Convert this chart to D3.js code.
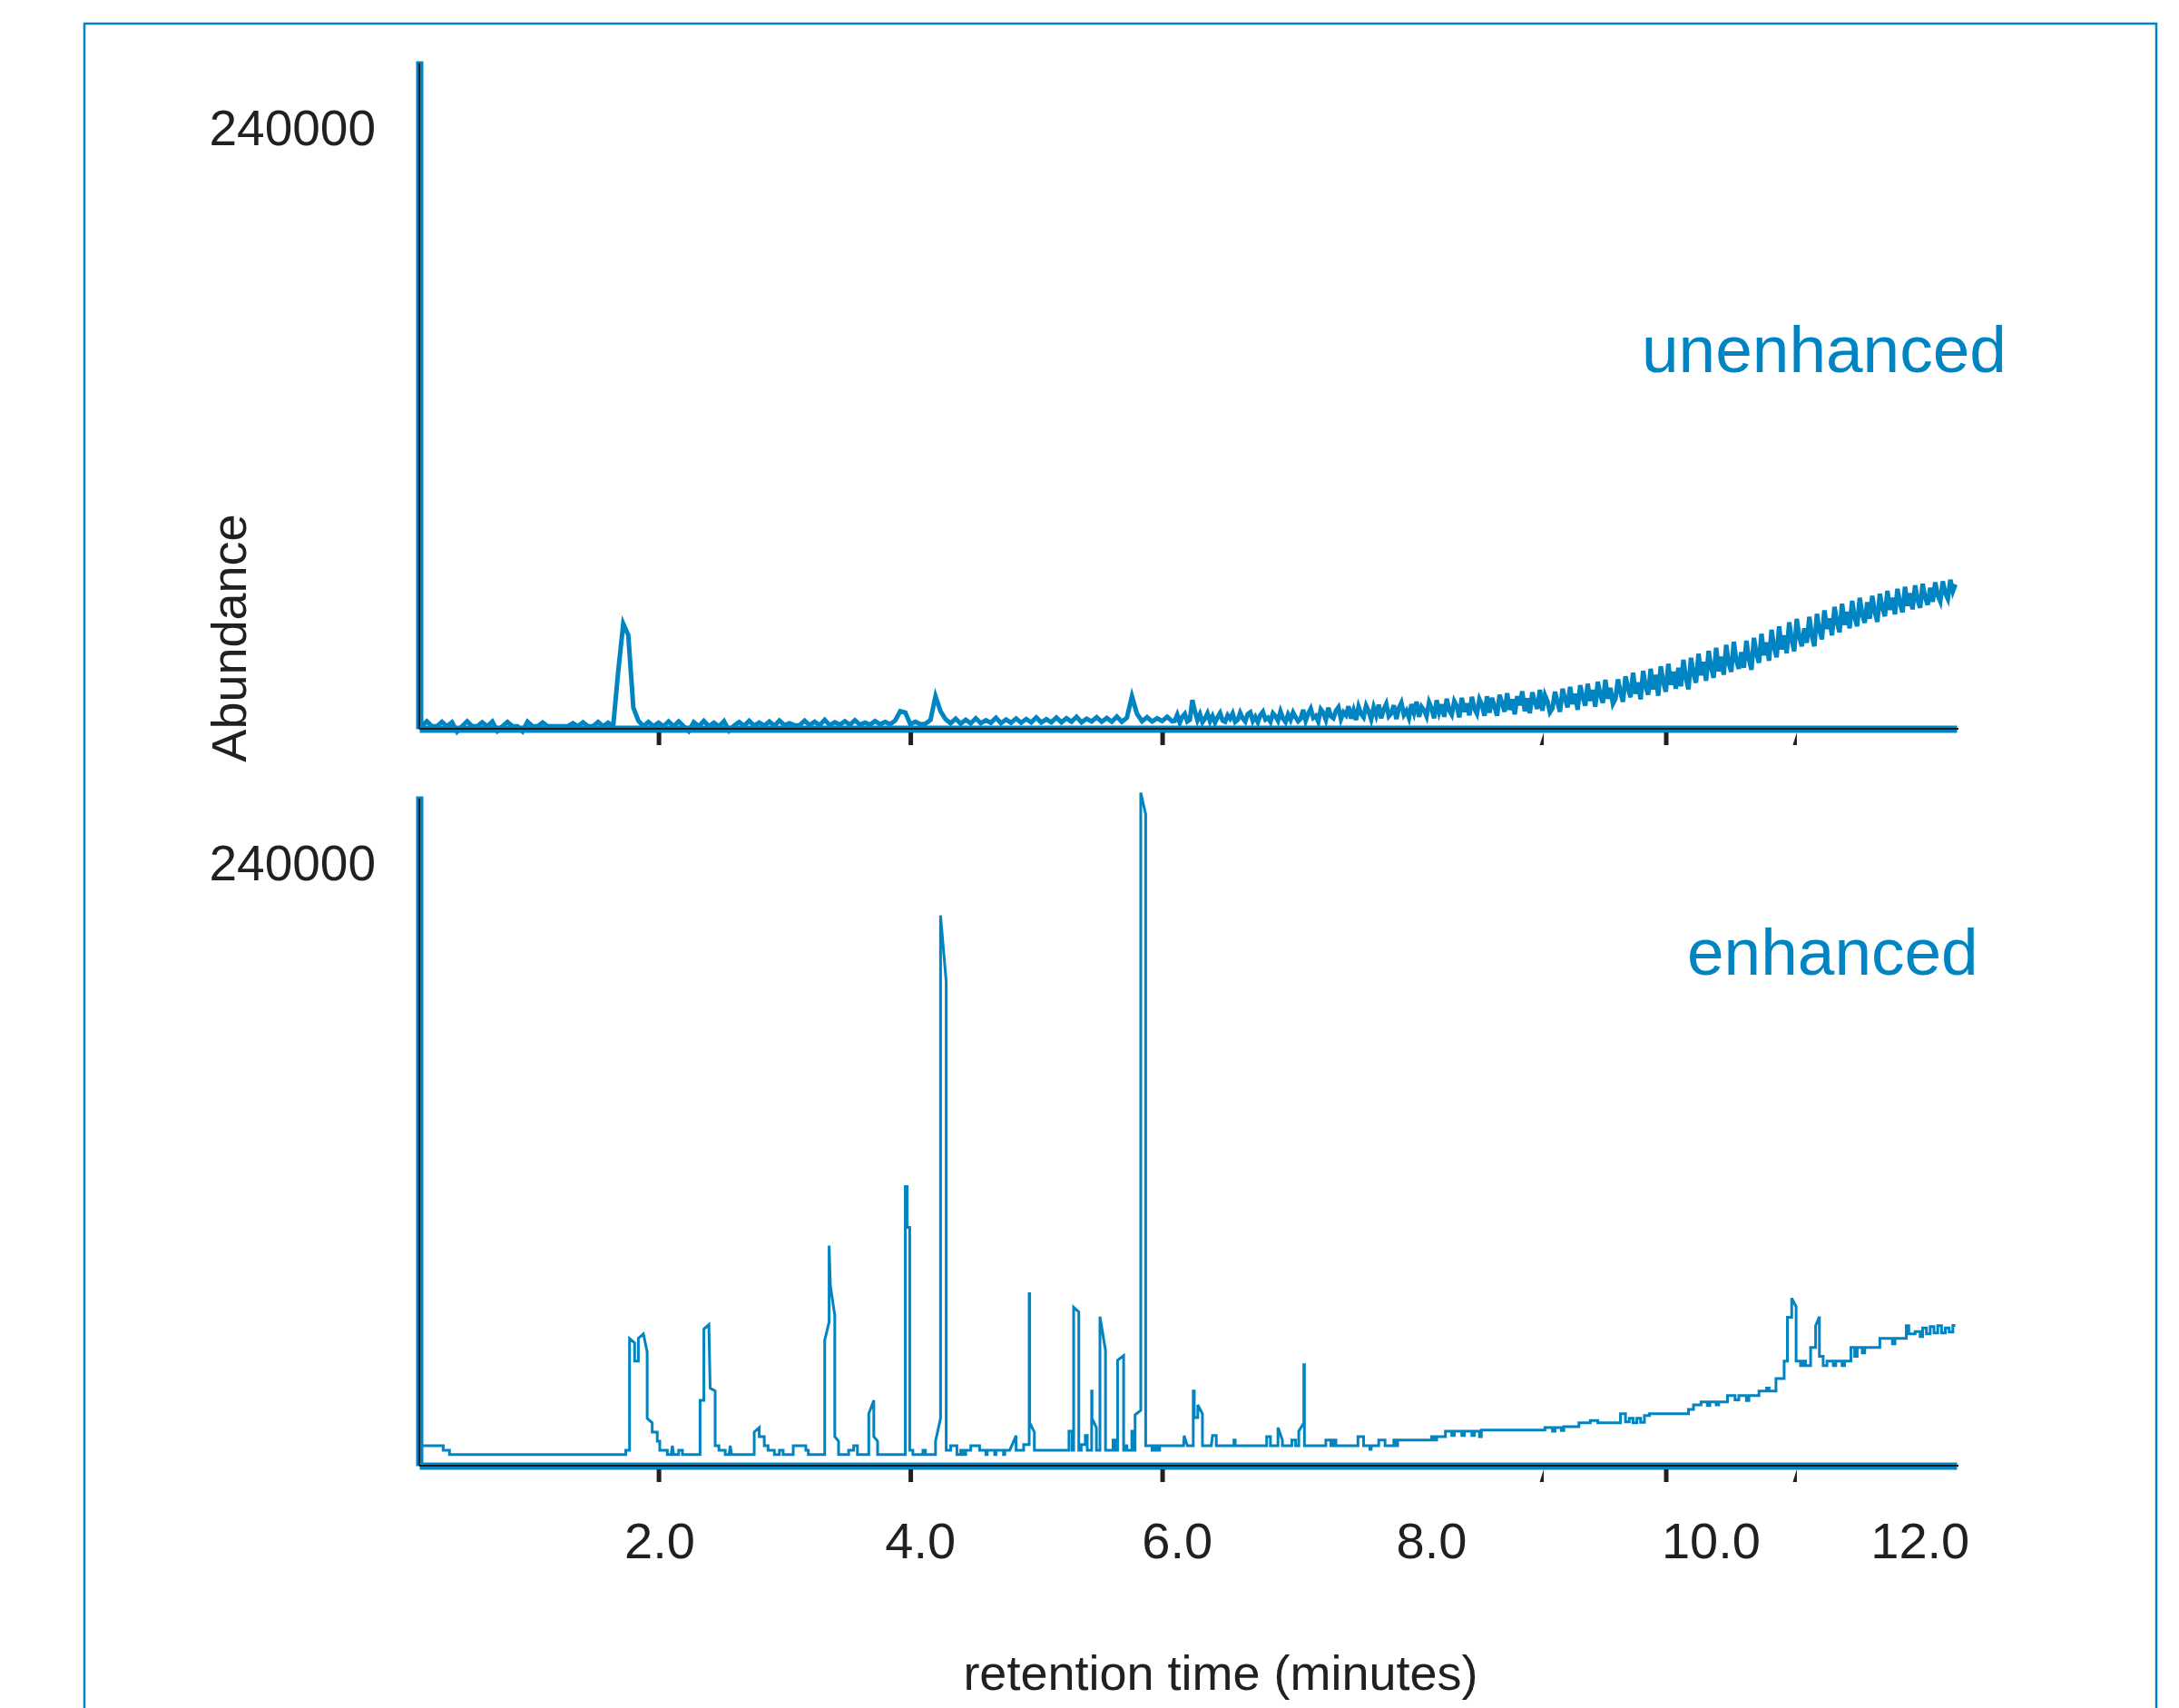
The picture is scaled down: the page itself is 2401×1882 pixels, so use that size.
<!DOCTYPE html>
<html>
<head>
<meta charset="utf-8">
<script src="https://cdn.jsdelivr.net/npm/d3@7"></script>
<style>
  body { margin: 0; background: #fff; }
  text { font-family: 'Liberation Sans', Arial, Helvetica, sans-serif; }
</style>
</head>
<body>
<svg id="chart"></svg>
<script>
// ---- data (abundance in thousands, time in minutes) ----
var panelNames = ['unenhanced', 'enhanced'];
var yTickValues = [240];
var xTickLabels = ['2.0', '4.0', '6.0', '8.0', '10.0', '12.0'];
var xLabelTimes = [2.01, 4.08, 6.12, 8.14, 10.36, 12.02];
var xTickTimes = [2, 4, 6, 10];
var xSlantTickTimes = [9.02, 11.03];

// unenhanced trace, first part sampled every 0.04 min from 0.12 min
var unenhancedEarlyStart = 0.12;
var unenhancedEarlyStep = 0.04;
var unenhancedEarly = [
  1.0, 3.0, 1.0, 1.0, 2.8, 1.0, 2.6, -1.2, 1.0, 3.0, 1.0, 1.0, 2.6, 1.0, 2.9, -0.9, 1.0, 2.7, 1.0, 1.0, -1.0, 2.8, 1.0, 1.0, 2.5,
  1.0, 1.0, 1.0, 1.0, 1.0, 2.2, 1.0, 2.6, 1.0, 1.0, 2.7, 1.0, 2.4, 1.0, 23.0, 42.0, 37.5, 8.5, 3.2, 1.0, 2.7, 1.0, 2.4, 1.0, 2.9,
  1.0, 2.9, 1.0, -1.0, 2.6, 1.0, 3.1, 1.0, 2.4, 1.0, 3.0, -0.8, 1.2, 2.7, 1.2, 3.2, 1.2, 2.5, 1.2, 2.9, 1.2, 3.3, 1.4, 2.2, 1.4,
  1.4, 3.2, 1.4, 2.8, 1.4, 3.6, 1.4, 2.6, 1.6, 3.0, 1.6, 3.4, 1.6, 2.5, 1.6, 3.1, 1.8, 2.7, 1.8, 3.3, 7.0, 6.5, 1.8, 2.8, 1.8,
  2.0, 3.5, 13.0, 7.0, 3.8, 2.2, 4.0, 2.0, 3.6, 2.2, 4.2, 2.2, 3.4, 2.4, 4.4, 2.2, 3.7, 2.4, 4.1, 2.4, 3.9, 2.5, 4.5, 2.5, 3.8,
  2.6, 4.5, 2.6, 4.2, 2.8, 4.8, 2.6, 4.0, 2.9, 4.6, 2.8, 4.3, 2.8, 4.9, 2.8, 4.4, 13.0, 6.0, 3.0, 4.6, 2.9, 4.2, 3.1, 4.8, 3.0
];
// second part, sampled every 0.02 min from 6.10 min
var unenhancedLateStart = 6.10;
var unenhancedLateStep = 0.02;
var unenhancedLate = [
  3.2, 5.6, 2.4, 4.8, 6.0, 2.9, 3.6, 11.5, 7.0, 3.4, 5.8, 2.6, 4.1, 6.2, 3.0, 5.1, 2.5, 4.6, 6.3, 3.3, 2.8, 5.4, 4.0, 6.1, 2.7,
  3.5, 6.4, 4.2, 2.9, 5.9, 6.6, 3.1, 4.8, 2.6, 5.5, 6.8, 3.7, 4.4, 2.8, 6.2, 5.0, 3.2, 6.9, 4.1, 2.7, 5.7, 3.6, 6.5, 4.6, 3.0,
  4.0, 7.6, 3.2, 6.0, 8.0, 4.4, 5.2, 2.9, 7.8, 6.4, 3.6, 8.4, 5.0, 4.2, 7.2, 8.6, 3.9, 6.6, 5.4, 9.0, 4.1, 7.4, 3.5, 8.8, 6.0,
  4.6, 9.2, 7.0, 3.8, 8.6, 5.4, 9.6, 4.2, 7.8, 10.0, 5.0, 6.2, 9.4, 3.9, 8.2, 10.4, 5.6, 7.2, 4.4, 9.8, 6.4, 10.8, 4.8, 8.8, 7.4,
  5.0, 10.6, 8.2, 4.2, 11.4, 6.6, 9.8, 4.8, 12.0, 7.4, 5.6, 11.0, 9.0, 4.6, 12.4, 6.8, 10.2, 5.4, 12.8, 8.0, 6.0, 11.8, 9.6, 5.2, 13.0,
  6.4, 12.4, 8.8, 5.2, 13.6, 10.0, 6.8, 14.2, 7.6, 11.8, 5.8, 13.0, 9.4, 15.0, 7.0, 12.2, 6.2, 14.6, 10.6, 8.0, 15.6, 7.2, 13.4, 11.0, 6.6,
  8.2, 14.8, 10.6, 6.8, 16.0, 12.0, 8.6, 16.8, 9.8, 14.0, 7.6, 17.4, 12.8, 9.2, 18.0, 11.2, 15.6, 8.8, 18.8, 13.4, 10.4, 19.6, 12.0, 16.4, 10.0,
  12.0, 19.8, 14.6, 10.8, 21.0, 16.4, 12.6, 22.4, 14.0, 18.6, 11.8, 23.2, 17.0, 13.6, 24.0, 15.8, 21.6, 13.2, 25.0, 18.8, 14.8, 26.0, 17.6, 22.8, 16.0,
  24.4, 17.0, 27.6, 20.2, 15.8, 28.4, 22.0, 18.4, 30.0, 21.4, 26.8, 19.2, 31.2, 24.6, 20.4, 32.4, 23.0, 28.8, 21.6, 33.6, 26.2, 22.8, 34.8, 27.4, 24.0,
  30.6, 24.4, 35.2, 28.0, 23.6, 36.4, 30.0, 26.4, 38.0, 29.4, 34.6, 27.2, 39.6, 32.6, 28.6, 41.0, 31.8, 37.4, 30.2, 42.6, 35.6, 31.0, 44.0, 36.8, 33.0,
  40.2, 34.4, 44.8, 37.2, 33.0, 46.0, 39.6, 35.8, 47.4, 40.0, 44.2, 37.4, 48.8, 42.6, 38.6, 50.0, 41.6, 46.8, 40.2, 51.2, 44.6, 41.0, 52.4, 45.8, 42.4,
  50.6, 44.0, 53.2, 46.8, 42.8, 54.0, 48.4, 45.0, 55.2, 47.6, 52.4, 45.8, 56.0, 50.2, 46.6, 56.8, 49.2, 54.2, 47.8, 57.4, 51.6, 48.4, 58.0, 52.6, 49.6,
  56.4, 50.8, 58.6, 53.4, 51.0, 59.0, 54.2, 52.0, 59.6, 55.0, 57.8
];

// enhanced trace as [time, abundance] points
var enhancedPoints = [
  [0.11,8.0],[0.29,8.0],[0.29,6.2],[0.34,6.2],[0.34,4.4],[1.74,4.4],[1.74,6.2],[1.77,6.2],[1.77,50.8],[1.81,49.0],[1.81,41.7],[1.84,41.7],[1.84,50.8],[1.88,52.6],[1.91,45.4],[1.91,18.9],[1.95,17.1],[1.95,13.4],[1.99,13.4],[1.99,9.8],[2.01,9.8],[2.01,6.2],[2.07,6.2],[2.07,4.4],[2.10,4.4],[2.11,8.0],[2.12,4.4],[2.16,4.4],[2.16,6.2],[2.19,6.2],[2.19,4.4],
  [2.33,4.4],[2.33,26.1],[2.36,26.1],[2.36,54.5],[2.40,56.3],[2.41,30.9],[2.45,29.8],[2.45,8.0],[2.48,8.0],[2.48,6.2],[2.53,6.2],[2.53,4.4],[2.56,4.4],[2.57,8.0],[2.58,4.4],
  [2.76,4.4],[2.76,13.4],[2.80,15.2],[2.80,11.6],[2.84,11.6],[2.84,8.0],[2.87,8.0],[2.87,6.2],[2.92,6.2],[2.92,4.4],[2.96,4.4],[2.96,6.2],[2.99,6.2],[2.99,4.4],
  [3.07,4.4],[3.07,8.0],[3.17,8.0],[3.17,6.2],[3.19,6.2],[3.19,4.4],
  [3.32,4.4],[3.32,50.1],[3.355,57.4],[3.355,87.8],[3.365,71.9],[3.40,59.9],[3.40,11.6],[3.43,9.8],[3.43,4.4],
  [3.51,4.4],[3.51,6.2],[3.55,6.2],[3.55,8.0],[3.58,8.0],[3.58,4.4],
  [3.67,4.4],[3.67,20.7],[3.71,26.1],[3.71,11.6],[3.74,9.8],[3.74,4.4],
  [3.96,4.4],[3.96,111.4],[3.975,111.4],[3.975,95.1],[3.995,95.1],[3.995,6.2],[4.02,6.2],[4.02,4.4],
  [4.10,4.4],[4.10,6.2],[4.12,6.2],[4.12,4.4],
  [4.20,4.4],[4.20,9.8],[4.24,18.9],[4.24,219.6],[4.285,193.1],[4.285,6.2],
  [4.32,6.2],[4.32,8.0],[4.37,8.0],[4.37,4.4],[4.40,4.4],[4.40,6.2],[4.42,6.2],[4.42,4.4],[4.44,4.4],[4.44,6.2],[4.48,6.2],[4.48,8.0],[4.55,8.0],[4.55,6.2],[4.60,6.2],[4.60,4.4],[4.61,4.4],[4.61,6.2],[4.67,6.2],[4.67,4.4],[4.68,4.4],[4.68,6.2],[4.74,6.2],[4.74,4.4],[4.75,4.4],[4.75,6.2],[4.79,6.2],[4.84,12.0],[4.84,6.2],[4.90,6.2],[4.90,8.4],[4.944,8.4],[4.944,68.6],[4.948,68.6],[4.948,17.1],[4.985,13.4],[4.985,6.2],
  [5.26,6.2],[5.26,13.8],[5.285,13.8],[5.285,6.2],[5.297,6.2],[5.297,63.2],[5.338,61.3],[5.338,6.2],
  [5.357,6.2],[5.357,8.4],[5.39,8.4],[5.39,12.0],[5.405,12.0],[5.405,6.2],
  [5.44,6.2],[5.44,29.8],[5.443,29.8],[5.443,18.9],[5.478,15.2],[5.478,6.2],
  [5.506,6.2],[5.506,59.5],[5.55,46.1],[5.55,6.2],
  [5.61,6.2],[5.61,10.2],[5.625,10.2],[5.625,6.2],
  [5.646,6.2],[5.646,42.1],[5.694,43.9],[5.694,6.2],[5.70,6.2],[5.70,8.0],[5.72,8.0],[5.72,6.2],
  [5.759,6.2],[5.759,13.8],[5.77,13.8],[5.77,6.2],[5.785,6.2],[5.785,20.3],[5.83,22.1],[5.83,268.6],[5.869,260.0],[5.869,8.0],
  [5.92,8.0],[5.92,6.2],[5.94,6.2],[5.94,8.0],[5.96,8.0],[5.96,6.2],[5.98,6.2],[5.98,8.0],
  [6.17,8.0],[6.175,12.0],[6.20,8.0],
  [6.247,8.0],[6.247,29.8],[6.255,29.8],[6.255,19.2],[6.283,19.2],[6.283,24.3],[6.32,20.7],[6.32,8.0],
  [6.39,8.0],[6.40,12.0],[6.43,12.0],[6.43,8.0],
  [6.57,8.0],[6.57,10.2],[6.58,10.2],[6.58,8.0],
  [6.83,8.0],[6.83,11.6],[6.86,11.6],[6.86,8.0],
  [6.92,8.0],[6.92,15.2],[6.955,10.2],[6.955,8.0],
  [7.03,8.0],[7.03,10.2],[7.06,10.2],[7.06,8.0],
  [7.085,8.0],[7.085,13.8],[7.125,17.1],[7.125,40.3],[7.13,40.3],[7.13,8.0],
  [7.30,8.0],[7.30,10.2],[7.34,10.2],[7.34,8.0],
  [7.36,8.0],[7.36,10.2],[7.38,10.2],[7.38,8.0],
  [7.555,8.0],[7.555,11.6],[7.60,11.6],[7.60,8.0],[7.65,8.0],[7.65,6.5],[7.66,6.5],[7.66,8.0],[7.72,8.0],[7.72,10.2],[7.77,10.2],[7.77,8.0],[7.84,8.0],[7.84,10.2],[7.86,10.2],[7.86,8.0],[7.87,8.0],[7.87,10.2],
  [8.14,10.2],[8.14,11.6],[8.16,11.6],[8.16,10.2],[8.18,10.2],[8.18,11.6],[8.25,11.6],[8.25,13.8],[8.30,13.8],[8.30,12.0],[8.32,12.0],[8.32,13.8],[8.38,13.8],[8.38,12.0],[8.40,12.0],[8.40,13.8],[8.46,13.8],[8.46,12.0],[8.48,12.0],[8.48,13.8],[8.52,13.8],[8.52,11.6],[8.535,11.6],[8.535,14.2],[9.04,14.2],
  [9.04,15.2],[9.10,15.2],[9.10,13.8],[9.12,13.8],[9.12,15.2],[9.17,15.2],[9.17,14.0],[9.19,14.0],[9.19,15.6],[9.31,15.6],
  [9.31,17.1],[9.40,17.1],[9.40,18.0],[9.46,18.0],[9.46,17.1],[9.64,17.1],
  [9.64,20.7],[9.68,20.7],[9.68,17.5],[9.71,17.5],[9.71,18.9],[9.74,18.9],[9.74,17.1],[9.77,17.1],[9.77,18.9],[9.80,18.9],[9.80,17.3],[9.83,17.3],[9.83,20.0],[9.87,20.0],[9.87,20.7],[10.18,20.7],
  [10.18,22.5],[10.22,22.5],[10.22,24.3],[10.28,24.3],[10.28,25.4],[10.33,25.4],[10.33,24.0],[10.35,24.0],[10.35,25.4],[10.40,25.4],[10.40,24.3],[10.42,24.3],[10.42,25.4],[10.49,25.4],
  [10.49,28.0],[10.55,28.0],[10.55,26.3],[10.58,26.3],[10.58,28.0],[10.64,28.0],[10.64,26.0],[10.66,26.0],[10.66,28.0],[10.74,28.0],
  [10.74,29.8],[10.80,29.8],[10.80,31.0],[10.82,31.0],[10.82,29.8],[10.875,29.8],[10.875,34.8],[10.94,34.8],[10.94,41.7],[10.966,41.7],[10.966,59.2],[11.0,59.2],[11.0,66.8],[11.035,63.5],[11.035,41.7],[11.07,41.7],[11.07,39.9],[11.09,39.9],[11.09,41.7],[11.11,41.7],[11.11,39.9],[11.15,39.9],[11.15,47.2],[11.19,47.2],[11.19,55.9],[11.22,59.5],[11.22,43.6],[11.25,43.6],[11.25,39.9],[11.28,39.9],[11.28,41.7],[11.33,41.7],[11.33,39.9],[11.35,39.9],[11.35,41.7],[11.40,41.7],[11.40,39.9],[11.42,39.9],[11.42,41.7],[11.47,41.7],
  [11.47,47.2],[11.50,47.2],[11.50,43.6],[11.52,43.6],[11.52,47.2],[11.56,47.2],[11.56,45.0],[11.58,45.0],[11.58,47.2],[11.70,47.2],
  [11.70,50.8],[11.80,50.8],[11.80,48.6],[11.82,48.6],[11.82,50.8],[11.91,50.8],
  [11.91,55.9],[11.93,55.9],[11.93,52.6],[11.98,52.6],[11.98,53.5],[12.02,53.5],[12.02,51.5],[12.04,51.5],[12.04,55.0],[12.07,55.0],[12.07,52.6],[12.10,52.6],[12.10,55.5],[12.13,55.5],[12.13,53.0],[12.16,53.0],[12.16,55.9],[12.19,55.9],[12.19,53.0],[12.22,53.0],[12.22,55.0],[12.25,55.0],[12.25,53.3],[12.28,53.3],[12.28,56.0],[12.30,56.0]
];

// ---- layout ----
var width = 2401, height = 1882;
var blue = '#0085c2';
var ink = '#231f20';
var panels = [
  { name: panelNames[0], top: 67, base: 803, labelX: 1809, labelY: 410, width: 5 },
  { name: panelNames[1], top: 877, base: 1615, labelX: 1859, labelY: 1074, width: 3 }
];

var svg = d3.select('#chart').attr('width', width).attr('height', height);

svg.append('rect')
  .attr('x', 93).attr('y', 26)
  .attr('width', 2283).attr('height', 1900)
  .attr('fill', 'none').attr('stroke', blue).attr('stroke-width', 2.5);

var x = d3.scaleLinear().domain([0.1, 12.31]).range([462, 2156]);

var unenhancedData = unenhancedEarly.map(function(v, i) {
  return [unenhancedEarlyStart + i * unenhancedEarlyStep, v];
}).concat(unenhancedLate.map(function(v, i) {
  return [unenhancedLateStart + i * unenhancedLateStep, v];
}));
var series = [unenhancedData, enhancedPoints];

panels.forEach(function(p, k) {
  var y = d3.scaleLinear().domain([0, 267.3]).range([p.base, p.top]);
  var g = svg.append('g');

  // trace
  g.append('path')
    .datum(series[k])
    .attr('fill', 'none')
    .attr('stroke', blue)
    .attr('stroke-width', p.width)
    .attr('d', d3.line().x(d => x(d[0])).y(d => y(d[1])));

  // y axis
  g.append('g')
    .attr('transform', 'translate(' + x.range()[0] + ',0)')
    .call(d3.axisLeft(y).tickValues(yTickValues).tickSize(0).tickSizeOuter(0)
      .tickPadding(48).tickFormat(d => String(d * 1000)))
    .call(a => a.select('.domain').attr('stroke', blue).attr('stroke-width', 8))
    .call(a => a.selectAll('.tick text').attr('fill', ink).attr('font-size', 55)
      .attr('font-family', "'Liberation Sans', Arial, sans-serif"));
  g.append('line')
    .attr('x1', x.range()[0]).attr('x2', x.range()[0])
    .attr('y1', p.top + 3).attr('y2', p.base)
    .attr('stroke', ink).attr('stroke-width', 2);

  // x axis
  g.append('g')
    .attr('transform', 'translate(0,' + p.base + ')')
    .call(d3.axisBottom(x).tickValues(xTickTimes).tickSize(18).tickSizeOuter(0).tickFormat(''))
    .call(a => a.select('.domain').attr('stroke', blue).attr('stroke-width', 8))
    .call(a => a.selectAll('.tick line').attr('stroke', ink).attr('stroke-width', 5).attr('y1', 4));
  g.append('line')
    .attr('x1', x.range()[0]).attr('x2', x.range()[1] + 2)
    .attr('y1', p.base).attr('y2', p.base)
    .attr('stroke', ink).attr('stroke-width', 2);

  // slanted tick marks
  g.selectAll('.slant')
    .data(xSlantTickTimes)
    .enter().append('path')
    .attr('class', 'slant')
    .attr('fill', ink)
    .attr('d', d => {
      var cx = x(d);
      return 'M' + (cx + 1.5) + ',' + (p.base + 4) + 'L' + (cx + 1.5) + ',' + (p.base + 18) +
             'L' + (cx - 3) + ',' + (p.base + 18) + 'Z';
    });

  // panel label
  g.append('text')
    .attr('x', p.labelX).attr('y', p.labelY)
    .attr('fill', blue).attr('font-size', 73)
    .text(p.name);
});

// x tick labels under the bottom panel
svg.append('g').selectAll('text')
  .data(xTickLabels)
  .enter().append('text')
  .attr('x', (d, i) => x(xLabelTimes[i]))
  .attr('y', 1717)
  .attr('text-anchor', 'middle')
  .attr('fill', ink)
  .attr('font-size', 56)
  .text(d => d);

svg.append('text')
  .attr('x', 1345).attr('y', 1862)
  .attr('text-anchor', 'middle')
  .attr('fill', ink).attr('font-size', 54)
  .text('retention time (minutes)');

svg.append('text')
  .attr('transform', 'translate(271,703) rotate(-90)')
  .attr('text-anchor', 'middle')
  .attr('fill', ink).attr('font-size', 54)
  .text('Abundance');
</script>
</body>
</html>
